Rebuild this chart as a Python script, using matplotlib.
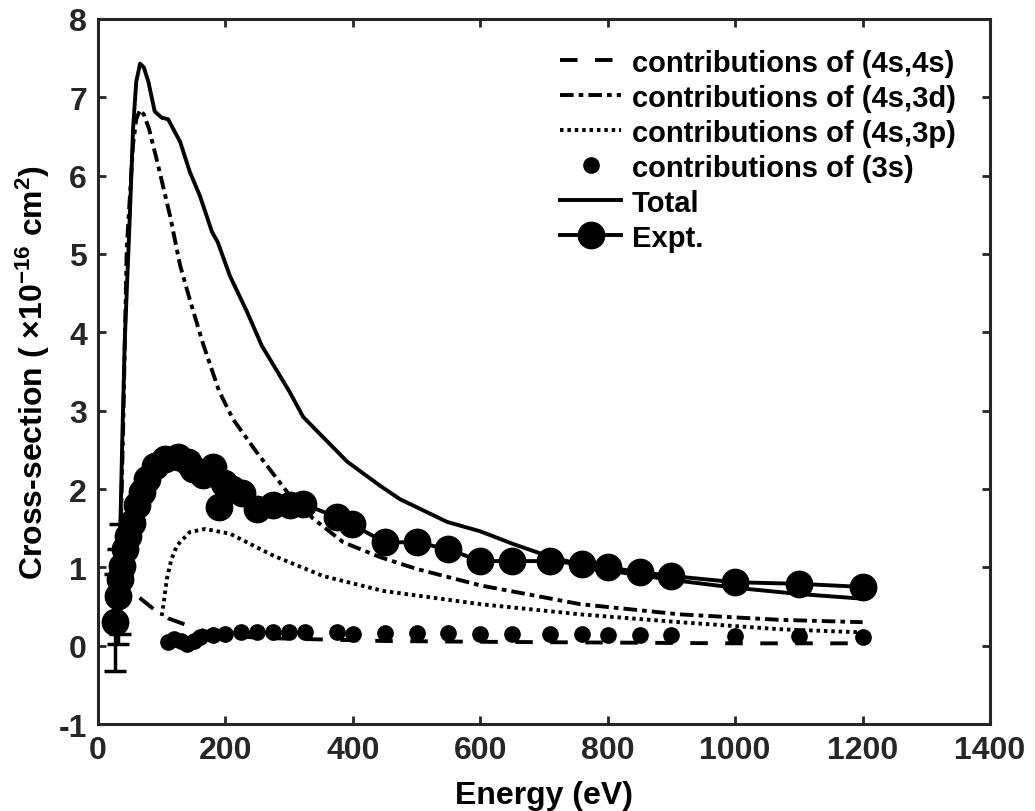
import numpy as np
import matplotlib
matplotlib.use('Agg')
import matplotlib.pyplot as plt

matplotlib.rcParams['font.family'] = ['Liberation Sans', 'DejaVu Sans']
matplotlib.rcParams['font.weight'] = 'bold'
matplotlib.rcParams['mathtext.fontset'] = 'custom'
matplotlib.rcParams['mathtext.bf'] = 'Liberation Sans:bold'
matplotlib.rcParams['mathtext.rm'] = 'Liberation Sans:bold'
matplotlib.rcParams['mathtext.default'] = 'bf'
matplotlib.rcParams['axes.unicode_minus'] = False

# (4s,4s) contribution
e_44 = [30, 40, 55, 70, 90, 110, 140, 170, 200, 250, 300, 350, 450, 600, 800, 1000, 1200]
s_44 = [0.95, 0.85, 0.68, 0.58, 0.45, 0.35, 0.26, 0.18, 0.14, 0.10, 0.09, 0.08, 0.06, 0.05, 0.04, 0.03, 0.03]

# (4s,3d) contribution
e_43d = [33, 40, 45, 55, 60, 66, 72, 80, 92, 113, 129, 144, 165, 190, 212, 249, 297, 338, 385, 443,
         500, 600, 757, 913, 1070, 1200]
s_43d = [0.5, 3.0, 5.06, 6.4, 6.72, 6.84, 6.78, 6.6, 6.21, 5.49, 4.85, 4.42, 3.85, 3.25, 2.89, 2.47,
         1.96, 1.62, 1.32, 1.13, 0.98, 0.77, 0.53, 0.40, 0.33, 0.30]

# (4s,3p) contribution
e_43p = [100, 104, 108, 115, 124, 144, 168, 207, 275, 353, 447, 600, 757, 913, 1070, 1200]
s_43p = [0.38, 0.6, 0.85, 1.1, 1.28, 1.45, 1.49, 1.43, 1.15, 0.89, 0.70, 0.53, 0.40, 0.30, 0.21, 0.17]

# (3s) contribution
e_3s = [110, 120, 130, 140, 150, 160, 180, 200, 225, 250, 275, 300, 325, 375, 400, 450, 500,
        550, 600, 650, 710, 760, 800, 850, 900, 1000, 1100, 1200]
s_3s = [0.05, 0.08, 0.06, 0.02, 0.06, 0.11, 0.14, 0.15, 0.17, 0.17, 0.17, 0.17, 0.17, 0.17, 0.15,
        0.16, 0.16, 0.16, 0.15, 0.15, 0.15, 0.15, 0.14, 0.14, 0.14, 0.12, 0.12, 0.11]

# total
e_tot = [30, 35, 38, 42, 50, 55, 60, 66, 72, 79, 89, 100, 110, 129, 144, 160, 179, 188, 207, 234,
         257, 300, 322, 391, 443, 474, 548, 600, 651, 704, 750, 800, 900, 1000, 1100, 1200]
s_tot = [0.9, 1.5, 2.6, 3.9, 5.5, 6.6, 7.2, 7.43, 7.38, 7.2, 6.82, 6.74, 6.72, 6.43, 6.05, 5.74,
         5.28, 5.15, 4.72, 4.26, 3.83, 3.25, 2.92, 2.35, 2.04, 1.87, 1.58, 1.46, 1.30, 1.15, 1.05,
         0.96, 0.84, 0.74, 0.66, 0.60]

# experiment
e_exp = [27, 31, 34, 38, 42, 47, 53, 61, 69, 77, 89, 105, 126, 141, 149, 165, 180, 190, 197,
         210, 226, 249, 275, 301, 322, 375, 398, 450, 500, 550, 600, 650, 710, 760, 800, 850,
         900, 1000, 1100, 1200]
s_exp = [0.30, 0.63, 0.85, 1.02, 1.23, 1.40, 1.57, 1.79, 1.96, 2.13, 2.30, 2.38, 2.41, 2.34,
         2.25, 2.18, 2.28, 1.77, 2.08, 2.00, 1.95, 1.75, 1.79, 1.79, 1.81, 1.64, 1.55, 1.32,
         1.32, 1.23, 1.08, 1.08, 1.08, 1.04, 1.00, 0.94, 0.89, 0.81, 0.79, 0.75]
# error bars on the first few points
e_err = [27, 31, 34]
s_err = [0.30, 0.63, 0.85]
d_err = [0.62, 0.61, 0.70]

fig = plt.figure(figsize=(10.35, 8.12), dpi=100)
ax = fig.add_axes([0.0947, 0.1071, 0.8618, 0.8683])

lw = 2.8
ax.plot(e_44, s_44, color='black', lw=lw, linestyle=(0, (4.5, 4.5)),
        label='contributions of (4s,4s)')
ax.plot(e_43d, s_43d, color='black', lw=lw, linestyle=(0, (3.5, 1.3, 1.2, 1.3)),
        label='contributions of (4s,3d)')
ax.plot(e_43p, s_43p, color='black', lw=lw, linestyle=(0, (0.9, 1.0)),
        label='contributions of (4s,3p)')
ax.plot(e_3s, s_3s, color='black', lw=0, marker='o', markersize=11,
        label='contributions of (3s)')
ax.plot(e_tot, s_tot, color='black', lw=lw, label='Total')
ax.errorbar(e_err, s_err, yerr=d_err, fmt='none', ecolor='black', elinewidth=2.5,
            capsize=8, capthick=2.5)
ax.plot(e_exp, s_exp, color='black', lw=lw, marker='o', markersize=19,
        label='Expt.')

ax.set_xlim(0, 1400)
ax.set_ylim(-1, 8)
ax.set_xticks(range(0, 1401, 200))
ax.set_yticks(range(-1, 9))

for sp in ax.spines.values():
    sp.set_linewidth(2.2)
    sp.set_color('#262626')
ax.tick_params(direction='in', length=6, width=2, colors='#262626', labelsize=23,
               top=True, right=True, pad=8)
for lab in ax.get_xticklabels() + ax.get_yticklabels():
    lab.set_fontweight('bold')

ax.set_xlabel('Energy (eV)', fontsize=23, fontweight='bold')
ax.set_ylabel('Cross-section ( ×10$^{-16}$ cm$^{2}$)', fontsize=23, fontweight='bold')
ax.xaxis.set_label_coords(0.5, -0.08)
ax.yaxis.set_label_coords(-0.052, 0.5)

ax.legend(loc='upper left', bbox_to_anchor=(0.518, 0.958), frameon=False,
          handlelength=2.1, handletextpad=0.35, labelspacing=0.24, borderpad=0,
          borderaxespad=0, numpoints=1, prop={'weight': 'bold', 'size': 21})

plt.savefig('out.png', dpi=100)
